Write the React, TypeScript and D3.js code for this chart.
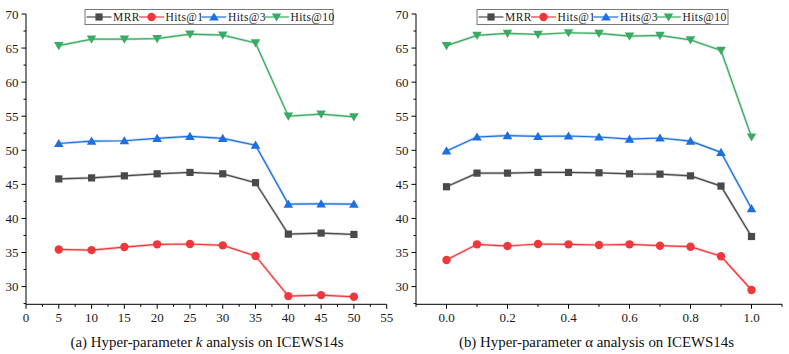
import React from "react";
import * as d3 from "d3";

const kValues = [5, 10, 15, 20, 25, 30, 35, 40, 45, 50];
const kMRR = [45.8, 45.95, 46.25, 46.55, 46.75, 46.55, 45.25, 37.7, 37.85, 37.65];
const kHits1 = [35.45, 35.35, 35.8, 36.2, 36.25, 36.05, 34.5, 28.6, 28.75, 28.5];
const kHits3 = [51.0, 51.35, 51.4, 51.75, 52.05, 51.75, 50.75, 42.1, 42.15, 42.1];
const kHits10 = [65.35, 66.3, 66.3, 66.4, 67.05, 66.9, 65.75, 55.0, 55.3, 54.9];

const aValues = [0.0, 0.1, 0.2, 0.3, 0.4, 0.5, 0.6, 0.7, 0.8, 0.9, 1.0];
const aMRR = [44.65, 46.65, 46.65, 46.75, 46.75, 46.7, 46.55, 46.5, 46.25, 44.75, 37.35];
const aHits1 = [33.9, 36.2, 35.95, 36.25, 36.2, 36.1, 36.2, 36.0, 35.85, 34.45, 29.5];
const aHits3 = [49.9, 51.95, 52.15, 52.05, 52.1, 51.95, 51.65, 51.8, 51.35, 49.7, 41.45];
const aHits10 = [65.35, 66.85, 67.15, 67.0, 67.25, 67.15, 66.75, 66.85, 66.2, 64.65, 51.95];

const seriesNames = ["MRR", "Hits@1", "Hits@3", "Hits@10"];
const seriesColors = ["#4a4a4a", "#f0383c", "#1c6fe0", "#3aab62"];
const seriesMarkers = ["square", "circle", "triangleUp", "triangleDown"];

const yTicks = [30, 35, 40, 45, 50, 55, 60, 65, 70];
const kTicks = [0, 5, 10, 15, 20, 25, 30, 35, 40, 45, 50, 55];
const aTicks = [0.0, 0.2, 0.4, 0.6, 0.8, 1.0];

const FONT = "'Liberation Serif', 'Times New Roman', serif";

function Marker({ type, x, y, color }: { type: string; x: number; y: number; color: string }) {
  if (type === "square") {
    return <rect x={x - 3.6} y={y - 3.6} width={7.2} height={7.2} fill={color} />;
  }
  if (type === "circle") {
    return <circle cx={x} cy={y} r={4.2} fill={color} />;
  }
  if (type === "triangleUp") {
    return <path d={`M${x},${y - 4.6}L${x + 4.8},${y + 3.6}L${x - 4.8},${y + 3.6}Z`} fill={color} />;
  }
  return <path d={`M${x},${y + 4.6}L${x + 4.8},${y - 3.6}L${x - 4.8},${y - 3.6}Z`} fill={color} />;
}

type PanelProps = {
  xs: number[];
  series: number[][];
  xDomain: [number, number];
  xRange: [number, number];
  xTicks: number[];
  xMinor: number[];
  xFmt: (v: number) => string;
  legendX: number;
  legendW: number;
  caption: React.ReactNode;
  captionX: number;
};

function Panel(p: PanelProps) {
  const x = d3.scaleLinear().domain(p.xDomain).range(p.xRange);
  const y = d3.scaleLinear().domain([27.4, 70]).range([304.3, 14]);
  const yMinor = d3.range(27.5, 70, 2.5).filter((v) => !yTicks.includes(v));
  const x0 = p.xRange[0];
  const yb = y(27.4);
  const line = d3
    .line<number>()
    .x((_, i) => x(p.xs[i]))
    .y((d) => y(d));
  const lx = p.legendX;
  const ly = 9.5;
  const lh = 15;
  const segW = 25;
  const textW = [26, 36, 36, 43];
  let cur = lx + 1.5;
  const items = seriesNames.map((n, i) => {
    const sx = cur;
    cur += segW + 1.5;
    const tx = cur;
    cur += textW[i];
    return { n, i, sx, tx };
  });
  return (
    <g>
      <line x1={x0} x2={p.xRange[1]} y1={yb} y2={yb} stroke="#000" strokeWidth={1} />
      <line x1={x0} x2={x0} y1={y(70)} y2={yb} stroke="#000" strokeWidth={1} />
      {p.xTicks.map((t) => (
        <g key={"xt" + t}>
          <line x1={x(t)} x2={x(t)} y1={yb} y2={yb + 4.5} stroke="#000" />
          <text x={x(t)} y={yb + 17.5} textAnchor="middle" fontFamily={FONT} fontSize={13} fill="#1a1a1a">
            {p.xFmt(t)}
          </text>
        </g>
      ))}
      {p.xMinor.map((t) => (
        <line key={"xm" + t} x1={x(t)} x2={x(t)} y1={yb} y2={yb + 2.5} stroke="#000" />
      ))}
      {yTicks.map((t) => (
        <g key={"yt" + t}>
          <line x1={x0 - 4.5} x2={x0} y1={y(t)} y2={y(t)} stroke="#000" />
          <text x={x0 - 7.5} y={y(t) + 4.5} textAnchor="end" fontFamily={FONT} fontSize={13} fill="#1a1a1a">
            {t}
          </text>
        </g>
      ))}
      {yMinor.map((t) => (
        <line key={"ym" + t} x1={x0 - 2.5} x2={x0} y1={y(t)} y2={y(t)} stroke="#000" />
      ))}
      {p.series.map((s, i) => (
        <g key={"s" + i}>
          <path d={line(s) || ""} fill="none" stroke={seriesColors[i]} strokeOpacity={0.3} strokeWidth={2.6} />
          <path d={line(s) || ""} fill="none" stroke={seriesColors[i]} strokeWidth={1.2} />
          {s.map((v, j) => (
            <Marker key={j} type={seriesMarkers[i]} x={x(p.xs[j])} y={y(v)} color={seriesColors[i]} />
          ))}
        </g>
      ))}
      <rect x={lx} y={ly} width={p.legendW} height={lh} fill="#fff" stroke="#777" strokeWidth={1} />
      {items.map(({ n, i, sx, tx }) => (
        <g key={"l" + i}>
          <line x1={sx} x2={sx + segW} y1={ly + lh / 2} y2={ly + lh / 2} stroke={seriesColors[i]} strokeWidth={1.2} />
          <Marker type={seriesMarkers[i]} x={sx + segW / 2} y={ly + lh / 2} color={seriesColors[i]} />
          <text x={tx} y={ly + 11.5} fontFamily={FONT} fontSize={11.5} fill="#1a1a1a" letterSpacing={0.4}>
            {n}
          </text>
        </g>
      ))}
      <text x={p.captionX} y={347} textAnchor="middle" fontFamily={FONT} fontSize={14.9} fill="#111">
        {p.caption}
      </text>
    </g>
  );
}

export default function App() {
  return (
    <svg
      width={789}
      height={354}
      style={{ position: "absolute", left: 0, top: 0, background: "#fff" }}
    >
      <rect width={789} height={354} fill="#fff" />
      <Panel
        xs={kValues}
        series={[kMRR, kHits1, kHits3, kHits10]}
        xDomain={[0, 55]}
        xRange={[26, 386.7]}
        xTicks={kTicks}
        xMinor={d3.range(2.5, 55, 5)}
        xFmt={(v) => String(v)}
        legendX={85}
        legendW={248}
        caption={
          <>
            (a) Hyper-parameter <tspan fontStyle="italic">k</tspan> analysis on ICEWS14s
          </>
        }
        captionX={207}
      />
      <Panel
        xs={aValues}
        series={[aMRR, aHits1, aHits3, aHits10]}
        xDomain={[-0.1, 1.1]}
        xRange={[416, 782]}
        xTicks={aTicks}
        xMinor={[-0.1, 0.1, 0.3, 0.5, 0.7, 0.9, 1.1]}
        xFmt={(v) => v.toFixed(1)}
        legendX={477}
        legendW={251}
        caption={<>(b) Hyper-parameter α analysis on ICEWS14s</>}
        captionX={596.5}
      />
    </svg>
  );
}
